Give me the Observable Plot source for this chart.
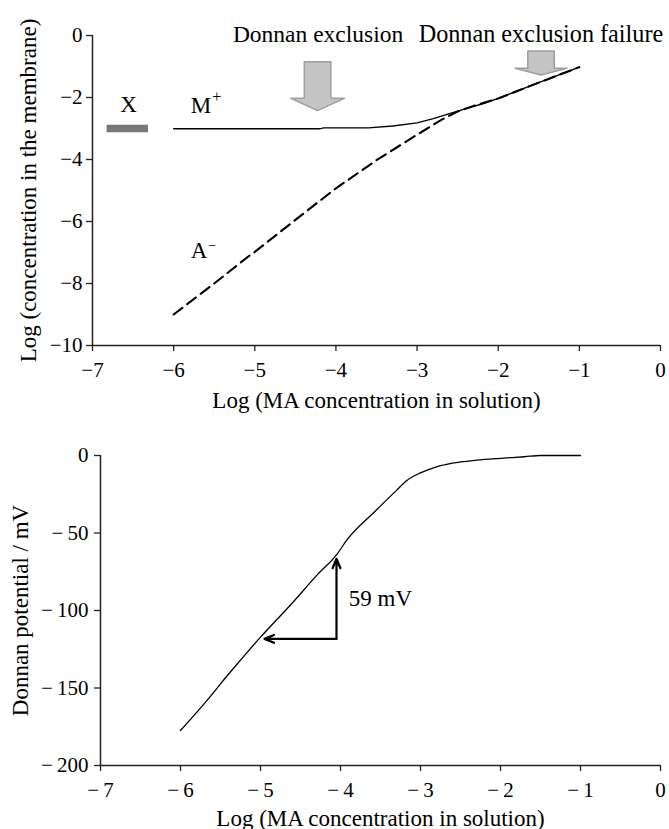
<!DOCTYPE html>
<html><head><meta charset="utf-8">
<script src="https://cdn.jsdelivr.net/npm/d3@7"></script>
<script src="https://cdn.jsdelivr.net/npm/@observablehq/plot@0.6"></script>
<style>body{margin:0;background:#fff} #chart svg{display:block}</style>
</head><body><div id="chart"></div>
<script>
// ---- data ----
const xTicks = [-7, -6, -5, -4, -3, -2, -1, 0];
const yTicksTop = [0, -2, -4, -6, -8, -10];
const yTicksBottom = [0, -50, -100, -150, -200];

// M+ in membrane (solid)
const mX = [-6, -5, -4.2, -4.15, -3.6, -3.3, -3, -2.8, -2.6, -2.4, -2.2, -2, -1.5, -1];
const mY = [-3.01, -3.01, -3.01, -2.98, -2.98, -2.92, -2.82, -2.68, -2.52, -2.36, -2.21, -2.03, -1.52, -1.02];
// A- in membrane (dashed)
const aX = [-6, -5.5, -5.1, -5, -4.5, -4, -3.5, -3, -2.9, -2.7, -2.5, -2.3, -2, -1.5, -1];
const aY = [-9, -8.0, -7.17, -6.98, -5.95, -4.93, -4.02, -3.2, -3.04, -2.72, -2.45, -2.27, -2.03, -1.52, -1.02];
// fixed charge X
const xBarX = [-6.82, -6.31];
const xBarY = -3;
// Donnan potential (mV)
const potX = [-6, -5.58, -5.5, -5.25, -5, -4.6, -4.3, -4.04, -3.92, -3.58, -3.3, -3.17, -3.0, -2.8, -2.6, -2.3, -2.0, -1.7, -1.5, -1];
const potY = [-177.4, -152.5, -147.3, -132, -117.2, -95, -77.5, -63.4, -54.5, -36.6, -22.5, -16.1, -11.2, -7.3, -4.9, -3.0, -1.8, -0.8, 0, 0];

// annotation arrows (data units)
const bigArrows = [
  {id: "exclusion", cx: -4.22, top: -0.86, neck: -2.04, tip: -2.44, shaft: 0.164, head: 0.33},
  {id: "failure", cx: -1.466, top: -0.516, neck: -1.07, tip: -1.29, shaft: 0.163, head: 0.32}
];
const slopeArrows = [
  {x1: -4.05, y1: -118.3, x2: -4.05, y2: -66.6},
  {x1: -4.05, y1: -118.3, x2: -4.95, y2: -118.3}
];

const topLabels = [
  {text: "Donnan exclusion", x: -5.27, y: -0.216, size: 23.5, anchor: "start"},
  {text: "Donnan exclusion failure", x: -2.98, y: -0.216, size: 24.2, anchor: "start"},
  {text: "X", x: -6.556, y: -2.48, size: 23, anchor: "middle"},
  {text: "M", x: -5.79, y: -2.49, size: 23, anchor: "start"},
  {text: "+", x: -5.525, y: -2.14, size: 16, anchor: "start"},
  {text: "A", x: -5.79, y: -7.19, size: 23, anchor: "start"},
  {text: "\u2212", x: -5.575, y: -6.93, size: 14, anchor: "start"}
];
const bottomLabels = [
  {text: "59 mV", x: -3.896, y: -97.4, size: 23, anchor: "start"}
];

const xLabel = "Log (MA concentration in solution)";
const yLabelTop = "Log (concentration in the membrane)";
const yLabelBottom = "Donnan potential / mV";

// ---- build tables ----
const mData = mX.map((x, i) => ({x, y: mY[i]}));
const aData = aX.map((x, i) => ({x, y: aY[i]}));
const potData = potX.map((x, i) => ({x, y: potY[i]}));
const arrowPolys = bigArrows.flatMap(a => [
  {id: a.id, y: a.top, x1: a.cx - a.shaft, x2: a.cx + a.shaft},
  {id: a.id, y: a.neck, x1: a.cx - a.shaft, x2: a.cx + a.shaft},
  {id: a.id, y: a.neck, x1: a.cx - a.head, x2: a.cx + a.head},
  {id: a.id, y: a.tip, x1: a.cx, x2: a.cx}
]);

const font = "'Liberation Serif', 'Times New Roman', Times, serif";
const axisColor = "#222";
const blank = () => "";
const fmtTop = d => d === 0 ? "0" : "\u2212" + Math.abs(d);
const fmtSp = d => d === 0 ? "0" : "\u2212\u2009" + Math.abs(d);

function axes(xmin, ymin, yTicks, xFmt, yFmt, yPad) {
  return [
    Plot.axisX(xTicks, {anchor: "bottom", tickSize: 6, tickFormat: blank, label: null, stroke: axisColor, strokeWidth: 1.3}),
    Plot.axisY(yTicks, {anchor: "left", tickSize: 6, tickFormat: blank, label: null, stroke: axisColor, strokeWidth: 1.3}),
    Plot.ruleY([ymin], {stroke: axisColor, strokeWidth: 1.5}),
    Plot.ruleX([xmin], {stroke: axisColor, strokeWidth: 1.5}),
    Plot.text(xTicks, {x: d => d, y: () => ymin, text: xFmt, dy: 17, lineAnchor: "top", textAnchor: "middle", fontSize: 21, fontFamily: font, fill: "#000"}),
    Plot.text(yTicks, {x: () => xmin, y: d => d, text: yFmt, dx: -yPad, lineAnchor: "middle", textAnchor: "end", fontSize: 21, fontFamily: font, fill: "#000"})
  ];
}

const topPlot = Plot.plot({
  width: 669, height: 420,
  marginTop: 35, marginBottom: 75, marginLeft: 92, marginRight: 9,
  style: {fontFamily: font, fontSize: "21px", color: "#000", background: "#fff", overflow: "visible"},
  x: {domain: [-7, 0]},
  y: {domain: [-10, 0]},
  marks: [
    ...axes(-7, -10, yTicksTop, fmtTop, fmtTop, 10),
    Plot.areaX(arrowPolys, {y: "y", x1: "x1", x2: "x2", z: "id", fill: "#c4c4c4", stroke: "#9e9e9e", strokeWidth: 1.5}),
    Plot.ruleY([xBarY], {x1: xBarX[0], x2: xBarX[1], stroke: "#777", strokeWidth: 7.5}),
    Plot.line(mData, {x: "x", y: "y", stroke: "#000", strokeWidth: 1.4}),
    Plot.line(aData, {x: "x", y: "y", stroke: "#000", strokeWidth: 2.1, strokeDasharray: "11,6"}),
    Plot.text(topLabels, {x: "x", y: "y", text: "text", fontSize: d => d.size, textAnchor: "start", lineAnchor: "bottom", fill: "#000", fontFamily: font, filter: d => d.anchor === "start"}),
    Plot.text(topLabels, {x: "x", y: "y", text: "text", fontSize: d => d.size, textAnchor: "middle", lineAnchor: "bottom", fill: "#000", fontFamily: font, filter: d => d.anchor === "middle"}),
    Plot.text([xLabel], {text: d => d, frameAnchor: "bottom", dy: 62, lineAnchor: "bottom", fontSize: 23, fill: "#000", fontFamily: font}),
    Plot.text([yLabelTop], {text: d => d, frameAnchor: "left", dx: -64, rotate: -90, lineAnchor: "middle", textAnchor: "middle", fontSize: 23, fill: "#000", fontFamily: font})
  ]
});

const bottomPlot = Plot.plot({
  width: 669, height: 409,
  marginTop: 35, marginBottom: 64, marginLeft: 100, marginRight: 9,
  style: {fontFamily: font, fontSize: "21px", color: "#000", background: "#fff", overflow: "visible"},
  x: {domain: [-7, 0]},
  y: {domain: [-200, 0]},
  marks: [
    ...axes(-7, -200, yTicksBottom, fmtSp, fmtSp, 12),
    Plot.line(potData, {x: "x", y: "y", stroke: "#000", strokeWidth: 1.3, curve: "monotone-x"}),
    Plot.arrow(slopeArrows, {x1: "x1", y1: "y1", x2: "x2", y2: "y2", stroke: "#000", strokeWidth: 2.2, headLength: 7, headAngle: 45}),
    Plot.text(bottomLabels, {x: "x", y: "y", text: "text", fontSize: d => d.size, textAnchor: "start", lineAnchor: "bottom", fill: "#000", fontFamily: font}),
    Plot.text([xLabel], {text: d => d, frameAnchor: "bottom", dy: 60, lineAnchor: "bottom", fontSize: 23, fill: "#000", fontFamily: font}),
    Plot.text([yLabelBottom], {text: d => d, frameAnchor: "left", dx: -80, rotate: -90, lineAnchor: "middle", textAnchor: "middle", fontSize: 23, fill: "#000", fontFamily: font})
  ]
});

const el = document.getElementById("chart");
el.appendChild(topPlot);
el.appendChild(bottomPlot);
</script>
</body></html>
